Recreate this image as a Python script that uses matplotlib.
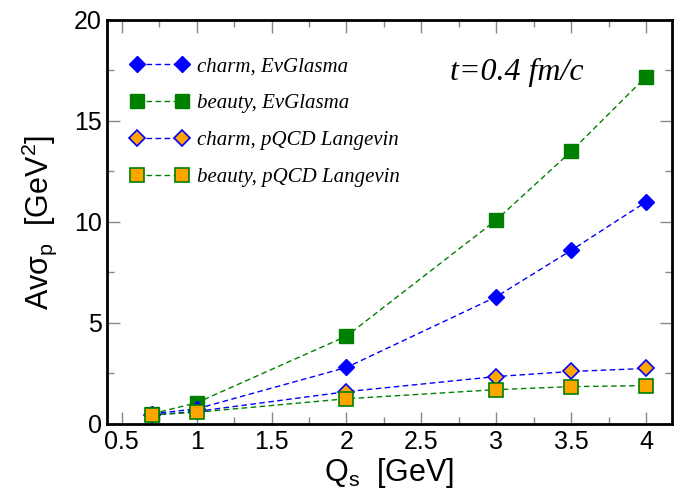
import matplotlib
matplotlib.use("Agg")
import matplotlib.pyplot as plt
from matplotlib.ticker import MultipleLocator, FuncFormatter

plt.rcParams['font.family'] = ['Liberation Sans', 'DejaVu Sans']
plt.rcParams['mathtext.fontset'] = 'custom'
plt.rcParams['mathtext.rm'] = 'Liberation Sans'
plt.rcParams['mathtext.it'] = 'Liberation Sans:italic'

qs = [0.7, 1, 2, 3, 3.5, 4]
charm_ev = [0.5, 0.75, 2.8, 6.3, 8.6, 11.0]
beauty_ev = [0.5, 1.05, 4.35, 10.1, 13.5, 17.2]
charm_pqcd = [0.45, 0.62, 1.6, 2.35, 2.6, 2.75]
beauty_pqcd = [0.45, 0.58, 1.25, 1.7, 1.85, 1.9]

labels = ["charm, EvGlasma", "beauty, EvGlasma", "charm, pQCD Langevin", "beauty, pQCD Langevin"]

blue = '#0000ff'
green = '#008000'
orange = '#ffa500'

fig = plt.figure(figsize=(6.84, 4.9), dpi=100)
ax = fig.add_axes([0.156, 0.1347, 0.826, 0.8245])

dash = (4, 2.5)
lb, = ax.plot(qs, beauty_ev, ls='--', dashes=dash, lw=1, color=green, marker='s', ms=10,
              mfc=green, mec=green, label=labels[1])
lc, = ax.plot(qs, charm_ev, ls='--', dashes=dash, lw=1, color=blue, marker='D', ms=8,
              mfc=blue, mec=blue, label=labels[0])
lcp, = ax.plot(qs, charm_pqcd, ls='--', dashes=dash, lw=1, color=blue, marker='D', ms=8,
               mfc=orange, mec=blue, mew=1.2, label=labels[2])
lbp, = ax.plot(qs, beauty_pqcd, ls='--', dashes=dash, lw=1, color=green, marker='s', ms=10,
               mfc=orange, mec=green, mew=1.2, label=labels[3])

ax.set_xlim(0.4, 4.17)
ax.set_ylim(0, 20)
ax.xaxis.set_major_locator(MultipleLocator(0.5))
ax.xaxis.set_minor_locator(MultipleLocator(0.25))
ax.yaxis.set_major_locator(MultipleLocator(5))
ax.yaxis.set_minor_locator(MultipleLocator(2.5))
ax.xaxis.set_major_formatter(FuncFormatter(lambda v, p: f"{v:g}"))
ax.yaxis.set_major_formatter(FuncFormatter(lambda v, p: f"{v:g}"))
ax.tick_params(which='both', direction='in', top=True, right=True, labelsize=18, color='#888888')
ax.tick_params(which='major', length=9, width=1)
ax.tick_params(which='minor', length=5, width=1)
ax.tick_params(axis='x', pad=4)
for s in ax.spines.values():
    s.set_linewidth(2)

ax.set_xlabel(r"Q$_\mathregular{s}$  [GeV]", fontsize=22)
ax.xaxis.set_label_coords(0.5, -0.078)
ax.set_ylabel(r"Avσ$_\mathregular{p}$  [GeV$^\mathregular{2}$]", fontsize=22)
ax.yaxis.set_label_coords(-0.085, 0.5)

leg = ax.legend(handles=[lc, lb, lcp, lbp], loc='upper left', bbox_to_anchor=(0.028, 0.93),
                frameon=False, numpoints=2, handlelength=2.75, handletextpad=0.43,
                labelspacing=0.84, borderaxespad=0,
                prop={'family': 'Liberation Serif', 'style': 'italic', 'size': 15})

ax.text(0.607, 0.871, "t=0.4 fm/c", transform=ax.transAxes, fontsize=23,
        family='Liberation Serif', style='italic', va='center', ha='left')

fig.savefig("out.png", dpi=100)
